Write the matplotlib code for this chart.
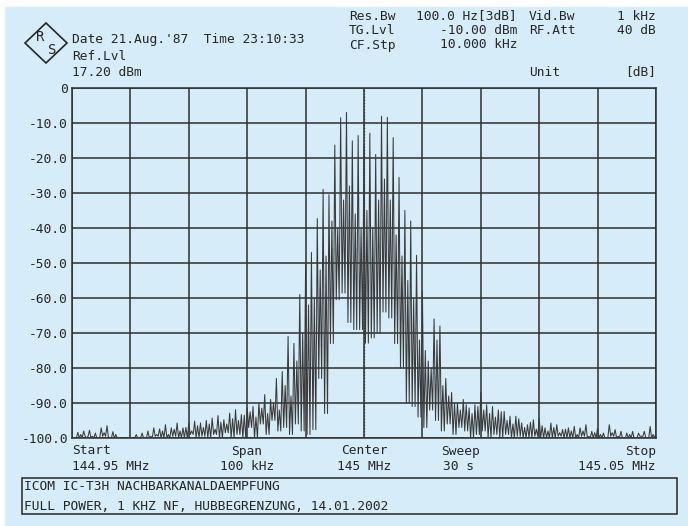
import numpy as np
import matplotlib.pyplot as plt
from matplotlib.patches import Rectangle, Polygon

# frequency offsets from centre (kHz), one spectral line per kHz
offsets_khz = np.arange(-50, 51)

# peak level of each line, dB (k = -50 .. 50)
peak_db = [
    -100, -98.4, -98, -97.8, -98.6, -97.1, -96.5, -98.2, -100, -100,
    -100, -99, -98.6, -98, -97.1, -97.4, -96.2, -97.1, -95.7, -97.1,
    -95.7, -95.2, -95.7, -95, -94.3, -93.6, -94.8, -92.9, -91.9, -93.3,
    -91.4, -91, -90, -87.6, -89, -83, -81, -71, -73, -59,
    -50.5, -47, -37.3, -29, -30.5, -16.3, -8.5, -7, -15.1, -13.6,
    -16.4,
    -12.9, -19, -8.1, -8.4, -14.2, -25.5, -35, -38, -47.8, -58,
    -78, -66, -68, -83, -87, -90, -89, -91.4, -90.5, -87,
    -90.5, -91, -92, -92.4, -93.8, -93.8, -95.7, -96.2, -94.8, -94.3,
    -97.1, -95.7, -96.2, -97.6, -97.1, -96.7, -97.1, -96.2, -98.1, -97.1,
    -98.6, -96.2, -97.6, -98.1, -98.6, -98.1, -98.6, -98.1, -96.7, -98.6,
]

# secondary spike half way between neighbouring lines, dB (k+0.5, k = -50 .. 49)
mid_db = [
    -100, -99, -100, -99.5, -100, -98.5, -100, -99, -100, -100,
    -100, -100, -100, -99.5, -99, -98, -99, -97.5, -98, -97,
    -98, -96.5, -97, -96, -97.5, -95.5, -96, -94.5, -95, -93.5,
    -92.5, -94, -91.5, -93, -90, -92, -85, -88, -78, -70,
    -62, -60, -52, -48, -38, -40, -32, -28, -36, -40,
    -35, -40, -32, -26, -32, -42, -48, -55, -60, -72,
    -75, -80, -72, -85, -88, -90, -92, -90.5, -93, -91,
    -92, -93, -94, -92.5, -95, -96, -94.5, -97, -95.5, -97.5,
    -96.5, -98, -97, -98.5, -97.5, -98, -99, -98, -99.5, -98.5,
    -99, -100, -98.5, -99.5, -100, -99, -100, -99.5, -100, -99,
]

# floor reached between the spikes, dB (around k+0.5, k = -50 .. 49)
dip_db = [
    -100, -100, -99.5, -100, -100, -99.5, -100, -100, -100, -100,
    -100, -100, -100, -100, -99.5, -100, -100, -99.5, -100, -100,
    -99, -100, -99.5, -100, -99, -100, -98.5, -100, -99, -100,
    -97, -100, -96, -99, -95, -98, -97, -99, -96, -98, -99,
    -97.6, -83, -93, -73, -60.5, -58.6, -67, -69, -69, -72.9,
    -71.4, -70, -64, -65.7, -73, -80, -90, -91, -94,
    -97, -92, -95, -98, -96, -99, -97, -98, -100, -99,
    -98, -100, -99, -100, -99, -100, -99.5, -100, -100, -99.5,
    -100, -100, -100, -99.5, -100, -100, -100, -99.5, -100, -100,
    -100, -100, -99.5, -100, -100, -100, -100, -99.5, -100, -100,
]

ytick_vals = list(range(0, -101, -10))
ytick_labels = ["0"] + ["%.1f" % v for v in ytick_vals[1:]]

W, H = 688, 526
BG = "#d6ecf8"
INK = "#262626"
MONO = "DejaVu Sans Mono"
FS = 9.3


def px(x, y):
    return x / W, 1 - y / H


def ftext(x, y, s, ha="left"):
    fig.text(*px(x, y), s, ha=ha, va="center", family=MONO, size=FS, color=INK)


fig = plt.figure(figsize=(W / 100, H / 100), dpi=100)
fig.patch.set_facecolor("white")
fig.add_artist(Rectangle(px(5, 526), 683 / W, 519 / H, transform=fig.transFigure,
                         color=BG, zorder=0))

ax = fig.add_axes([72 / W, 1 - 438 / H, 584 / W, 350 / H])
ax.set_facecolor("none")

# trace: line peak -> floor -> secondary spike -> floor -> next line
xs, ys = [], []
for i, k in enumerate(offsets_khz[:-1]):
    xs += [k, k + 0.25, k + 0.5, k + 0.75]
    ys += [peak_db[i], dip_db[i], mid_db[i], dip_db[i]]
xs.append(offsets_khz[-1])
ys.append(peak_db[-1])
ax.plot(xs, ys, color="#3a3a3a", lw=0.75, zorder=3)

ax.set_xlim(-50, 50)
ax.set_ylim(-100, 0)
ax.set_xticks(np.arange(-50, 51, 10))
ax.set_xticklabels([])
ax.set_yticks(ytick_vals)
ax.set_yticklabels(ytick_labels, family=MONO, size=FS, color=INK)
ax.tick_params(length=0, pad=3)
ax.grid(True, color="#2e2e2e", lw=1.1)
ax.axvline(0, color="#2e2e2e", lw=0.9, ls=(0, (1, 1.5)), zorder=2)
for s in ax.spines.values():
    s.set_color("#2e2e2e")
    s.set_linewidth(1.1)

# R&S logo
fig.add_artist(Polygon([px(46, 23), px(67, 43), px(46, 63), px(25, 43)],
                       closed=True, fill=False, ec=INK, lw=1.2,
                       transform=fig.transFigure))
fig.text(*px(40, 37), "R", ha="center", va="center", family=MONO, size=10, color=INK)
fig.text(*px(52, 50), "S", ha="center", va="center", family=MONO, size=10, color=INK)

# header, left
ftext(72, 39, "Date 21.Aug.'87  Time 23:10:33")
ftext(72, 56, "Ref.Lvl")
ftext(72, 72, "17.20 dBm")

# header, right
ftext(349, 16, "Res.Bw")
ftext(517, 16, "100.0 Hz[3dB]", ha="right")
ftext(529, 16, "Vid.Bw")
ftext(656, 16, "1 kHz", ha="right")
ftext(349, 31, "TG.Lvl")
ftext(517, 31, "-10.00 dBm", ha="right")
ftext(529, 31, "RF.Att")
ftext(656, 31, "40 dB", ha="right")
ftext(349, 45, "CF.Stp")
ftext(517, 45, "10.000 kHz", ha="right")
ftext(529, 72, "Unit")
ftext(656, 72, "[dB]", ha="right")

# footer of the sweep
ftext(72, 451, "Start")
ftext(72, 467, "144.95 MHz")
ftext(247, 451, "Span", ha="center")
ftext(247, 467, "100 kHz", ha="center")
ftext(364, 451, "Center", ha="center")
ftext(364, 467, "145 MHz", ha="center")
ftext(441, 451, "Sweep")
ftext(443, 467, "30 s")
ftext(656, 451, "Stop", ha="right")
ftext(656, 467, "145.05 MHz", ha="right")

# comment box
fig.add_artist(Rectangle(px(22, 514), 655 / W, 36 / H, transform=fig.transFigure,
                         fill=False, ec=INK, lw=1.1))
ftext(24, 487, "ICOM IC-T3H NACHBARKANALDAEMPFUNG")
ftext(24, 506, "FULL POWER, 1 KHZ NF, HUBBEGRENZUNG, 14.01.2002")

fig.savefig("out.png", dpi=100)
